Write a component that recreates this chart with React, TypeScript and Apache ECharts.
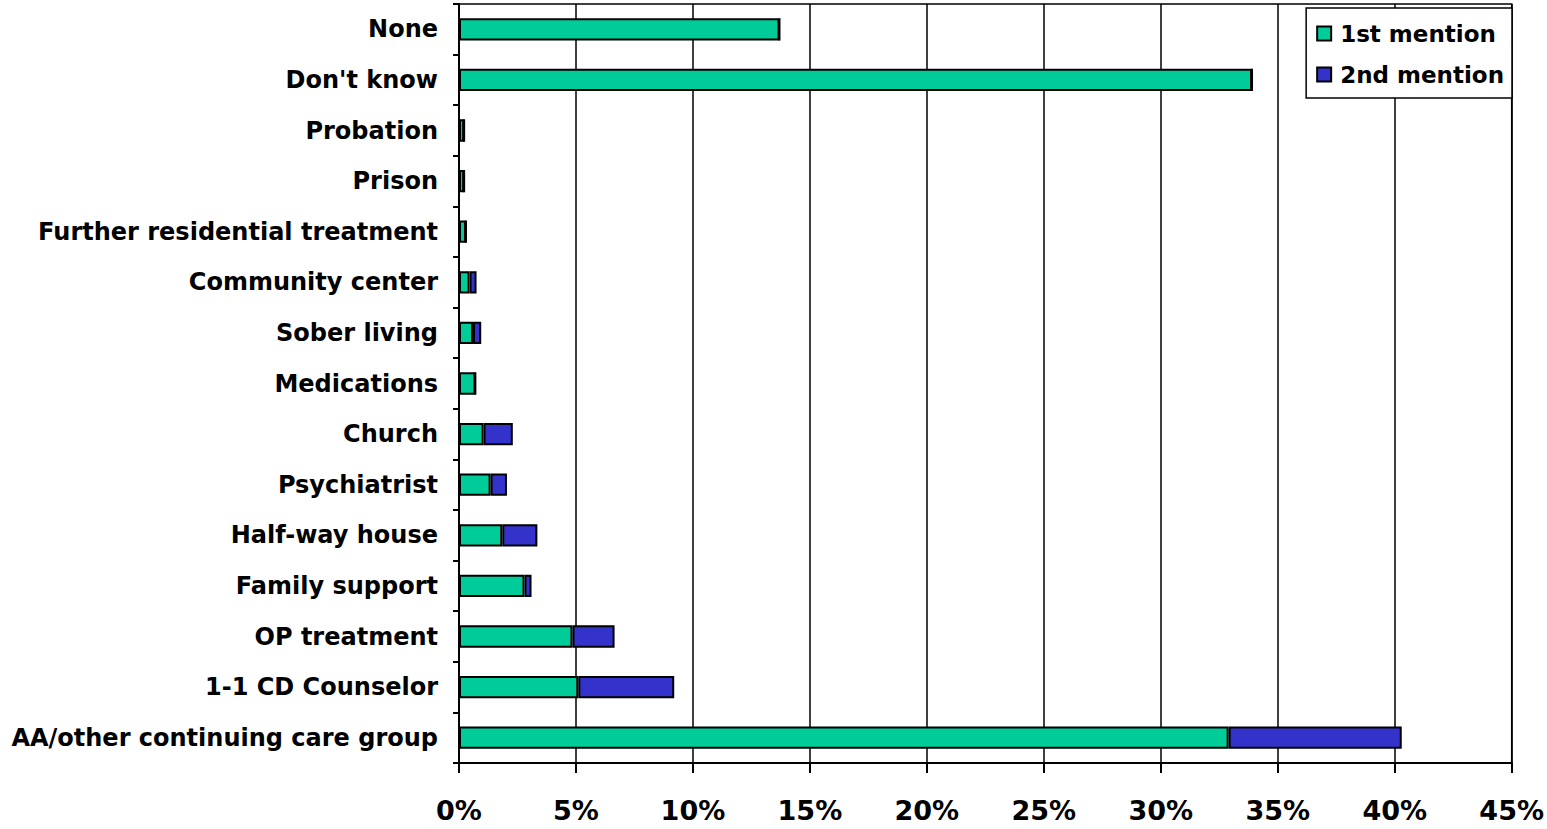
import React, { useEffect, useRef } from "react";
import * as echarts from "echarts";

const categories = [
  "None",
  "Don't know",
  "Probation",
  "Prison",
  "Further residential treatment",
  "Community center",
  "Sober living",
  "Medications",
  "Church",
  "Psychiatrist",
  "Half-way house",
  "Family support",
  "OP treatment",
  "1-1 CD Counselor",
  "AA/other continuing care group",
];
const firstMention = [13.7, 33.9, 0.22, 0.22, 0.3, 0.45, 0.6, 0.7, 1.05, 1.35, 1.85, 2.8, 4.85, 5.1, 32.9];
const secondMention = [0, 0, 0, 0, 0, 0.3, 0.35, 0, 1.25, 0.7, 1.5, 0.3, 1.8, 4.1, 7.4];
const seriesNames = ["1st mention", "2nd mention"];
const colors = ["#00CC99", "#3333CC"];

export default function App() {
  const ref = useRef<HTMLDivElement>(null);
  useEffect(() => {
    if (!ref.current) return;
    const chart = echarts.init(ref.current, null, { renderer: "svg" });
    const font = "DejaVu Sans";
    chart.setOption({
      animation: false,
      backgroundColor: "#ffffff",
      textStyle: { fontFamily: font },
      grid: {
        left: 459,
        right: 35,
        top: 4,
        bottom: 66,
        show: true,
        borderColor: "#000",
        borderWidth: 1.5,
        backgroundColor: "transparent",
      },
      legend: {
        orient: "vertical",
        top: 8,
        right: 35,
        data: seriesNames,
        backgroundColor: "#fff",
        borderColor: "#000",
        borderWidth: 1.5,
        borderRadius: 0,
        padding: [14, 8, 12, 10],
        itemGap: 18,
        itemWidth: 14,
        itemHeight: 14,
        icon: "rect",
        textStyle: { fontFamily: font, fontSize: 23, fontWeight: "bold", color: "#000", padding: [0, 0, 0, 4] },
      },
      xAxis: {
        type: "value",
        min: 0,
        max: 45,
        interval: 5,
        axisLine: { show: true, lineStyle: { color: "#000", width: 2 } },
        axisTick: { show: true, length: 10, lineStyle: { color: "#000", width: 2 } },
        axisLabel: {
          formatter: "{value}%",
          fontFamily: font,
          fontSize: 27,
          fontWeight: "bold",
          color: "#000",
          margin: 34,
        },
        splitLine: { show: true, lineStyle: { color: "#000", width: 1.5 } },
      },
      yAxis: {
        type: "category",
        data: categories,
        inverse: true,
        axisLine: { show: true, lineStyle: { color: "#000", width: 2 } },
        axisTick: { show: true, length: 6, lineStyle: { color: "#000", width: 2 } },
        axisLabel: {
          fontFamily: font,
          fontSize: 24,
          fontWeight: "bold",
          color: "#000",
          margin: 21,
        },
        splitLine: { show: false },
      },
      series: seriesNames.map((name, i) => ({
        name,
        type: "bar",
        stack: "total",
        barWidth: "44%",
        data: i === 0 ? firstMention : secondMention,
        itemStyle: { color: colors[i], borderColor: "#000", borderWidth: 2 },
      })),
    });
    return () => chart.dispose();
  }, []);
  return (
    <div
      ref={ref}
      style={{ position: "absolute", left: 0, top: 0, width: 1547, height: 829 }}
    />
  );
}
